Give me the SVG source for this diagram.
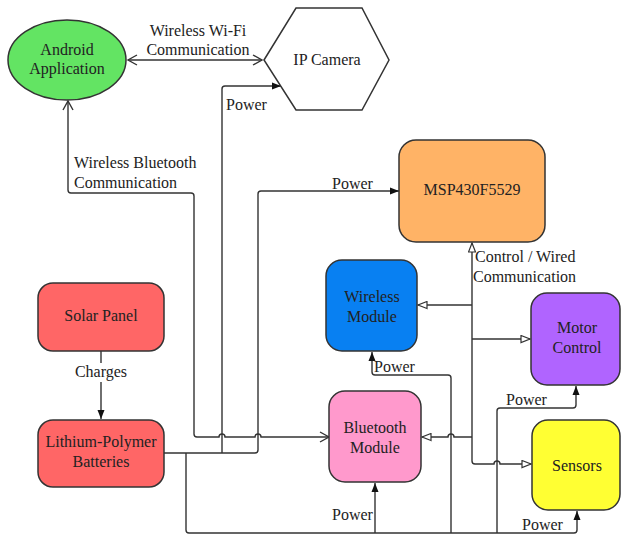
<svg xmlns="http://www.w3.org/2000/svg" width="621" height="535" viewBox="0 0 621 535">
<defs>
<style>
.n{stroke:#333;stroke-width:1.5}
.t{font-family:"Liberation Serif","Times New Roman",serif;font-size:16px;fill:#222}
.m{text-anchor:middle}
.c{fill:none;stroke:#333;stroke-width:1.4}
.pw{marker-end:url(#fa)}
.ct{marker-end:url(#ot)}
</style>
<marker id="fa" markerUnits="userSpaceOnUse" markerWidth="10" markerHeight="8" refX="9" refY="4" orient="auto"><path d="M0,0.5 L9,4 L0,7.5 z" fill="#111"/></marker>
<marker id="ot" markerUnits="userSpaceOnUse" markerWidth="11" markerHeight="9" refX="10" refY="4.5" orient="auto"><path d="M1,1 L10,4.5 L1,8 z" fill="#fff" stroke="#333" stroke-width="1.2"/></marker>
<marker id="ov" markerUnits="userSpaceOnUse" markerWidth="12" markerHeight="12" refX="10" refY="6" orient="auto"><path d="M1,1 L10,6 L1,11" fill="none" stroke="#333" stroke-width="1.4"/></marker>
<marker id="ovs" markerUnits="userSpaceOnUse" markerWidth="12" markerHeight="12" refX="10" refY="6" orient="auto-start-reverse"><path d="M1,1 L10,6 L1,11" fill="none" stroke="#333" stroke-width="1.4"/></marker>
</defs>
<rect width="621" height="535" fill="#fff"/>
<g id="connectors">
<path class="c" d="M128,60 H262" marker-start="url(#ovs)" marker-end="url(#ov)"/>
<path class="c" d="M68,101 V190 Q68,193 71,193 H191 Q194,193 194,196 V434 Q194,437 197,437 H219 a3,3 0 0 1 6,0 H255 a3,3 0 0 1 6,0 H329" marker-start="url(#ovs)" marker-end="url(#ov)"/>
<path class="c" d="M164,453 H255 Q258,453 258,450 V194 Q258,191 261,191 H399" style="marker-end:url(#fa)"/>
<path class="c pw" d="M222,453 V89 Q222,86 225,86 H281"/>
<path class="c pw" d="M186,453 V530 Q186,533 189,533 H574 Q577,533 577,530 V511"/>
<path class="c pw" d="M375,533 V483"/>
<path class="c pw" d="M451,533 V378 Q451,375 448,375 H375 Q372,375 372,372 V352"/>
<path class="c pw" d="M497,533 V411 Q497,408 500,408 H573 Q576,408 576,405 V386"/>
<path class="c ct" d="M472,461 V243"/>
<path class="c ct" d="M472,461 Q472,464 475,464 H494 a3,3 0 0 1 6,0 H531"/>
<path class="c ct" d="M472,305 H418"/>
<path class="c ct" d="M472,339 H530"/>
<path class="c ct" d="M472,437 H454 a3,3 0 0 0 -6,0 H422"/>
<path class="c pw" d="M101,351 V419"/>
<rect x="72" y="363" width="58" height="19" fill="#fff"/>
<text class="t m" x="101" y="377">Charges</text>
<text class="t m" x="198" y="36">Wireless Wi-Fi</text>
<text class="t m" x="198" y="55">Communication</text>
<text class="t" x="226" y="110">Power</text>
<text class="t" x="74" y="168">Wireless Bluetooth</text>
<text class="t" x="74" y="188">Communication</text>
<text class="t" x="332" y="189">Power</text>
<text class="t" x="475" y="262">Control / Wired</text>
<text class="t" x="473" y="282">Communication</text>
<text class="t" x="374" y="372">Power</text>
<text class="t" x="506" y="405">Power</text>
<text class="t" x="332" y="520">Power</text>
<text class="t" x="522" y="530">Power</text>
</g>
<g id="android">
<ellipse class="n" cx="67" cy="60" rx="59" ry="40" fill="#63e463"/>
<text class="t m" x="67" y="55">Android</text>
<text class="t m" x="67" y="74">Application</text>
</g>
<g id="ipcamera">
<polygon class="n" points="264,60 296,8 362,8 389,60 362,110 296,110" fill="#fff"/>
<text class="t m" x="327" y="65">IP Camera</text>
</g>
<g id="msp">
<rect class="n" x="399" y="140" width="146" height="102" rx="17" fill="#ffb366"/>
<text class="t m" x="472" y="195">MSP430F5529</text>
</g>
<g id="wireless">
<rect class="n" x="326" y="260" width="91" height="91" rx="16" fill="#0880f2"/>
<text class="t m" x="372" y="302">Wireless</text>
<text class="t m" x="372" y="322">Module</text>
</g>
<g id="motor">
<rect class="n" x="531" y="293" width="89" height="92" rx="16" fill="#b064ff"/>
<text class="t m" x="577" y="333">Motor</text>
<text class="t m" x="577" y="353">Control</text>
</g>
<g id="solar">
<rect class="n" x="38" y="283" width="126" height="68" rx="15" fill="#ff6666"/>
<text class="t m" x="101" y="321">Solar Panel</text>
</g>
<g id="batteries">
<rect class="n" x="38" y="420" width="126" height="67" rx="15" fill="#ff6666"/>
<text class="t m" x="101" y="447">Lithium-Polymer</text>
<text class="t m" x="101" y="467">Batteries</text>
</g>
<g id="bluetooth">
<rect class="n" x="329" y="391" width="92" height="91" rx="16" fill="#ff99cc"/>
<text class="t m" x="375" y="433">Bluetooth</text>
<text class="t m" x="375" y="453">Module</text>
</g>
<g id="sensors">
<rect class="n" x="532" y="420" width="88" height="90" rx="16" fill="#ffff33"/>
<text class="t m" x="577" y="471">Sensors</text>
</g>
</svg>
